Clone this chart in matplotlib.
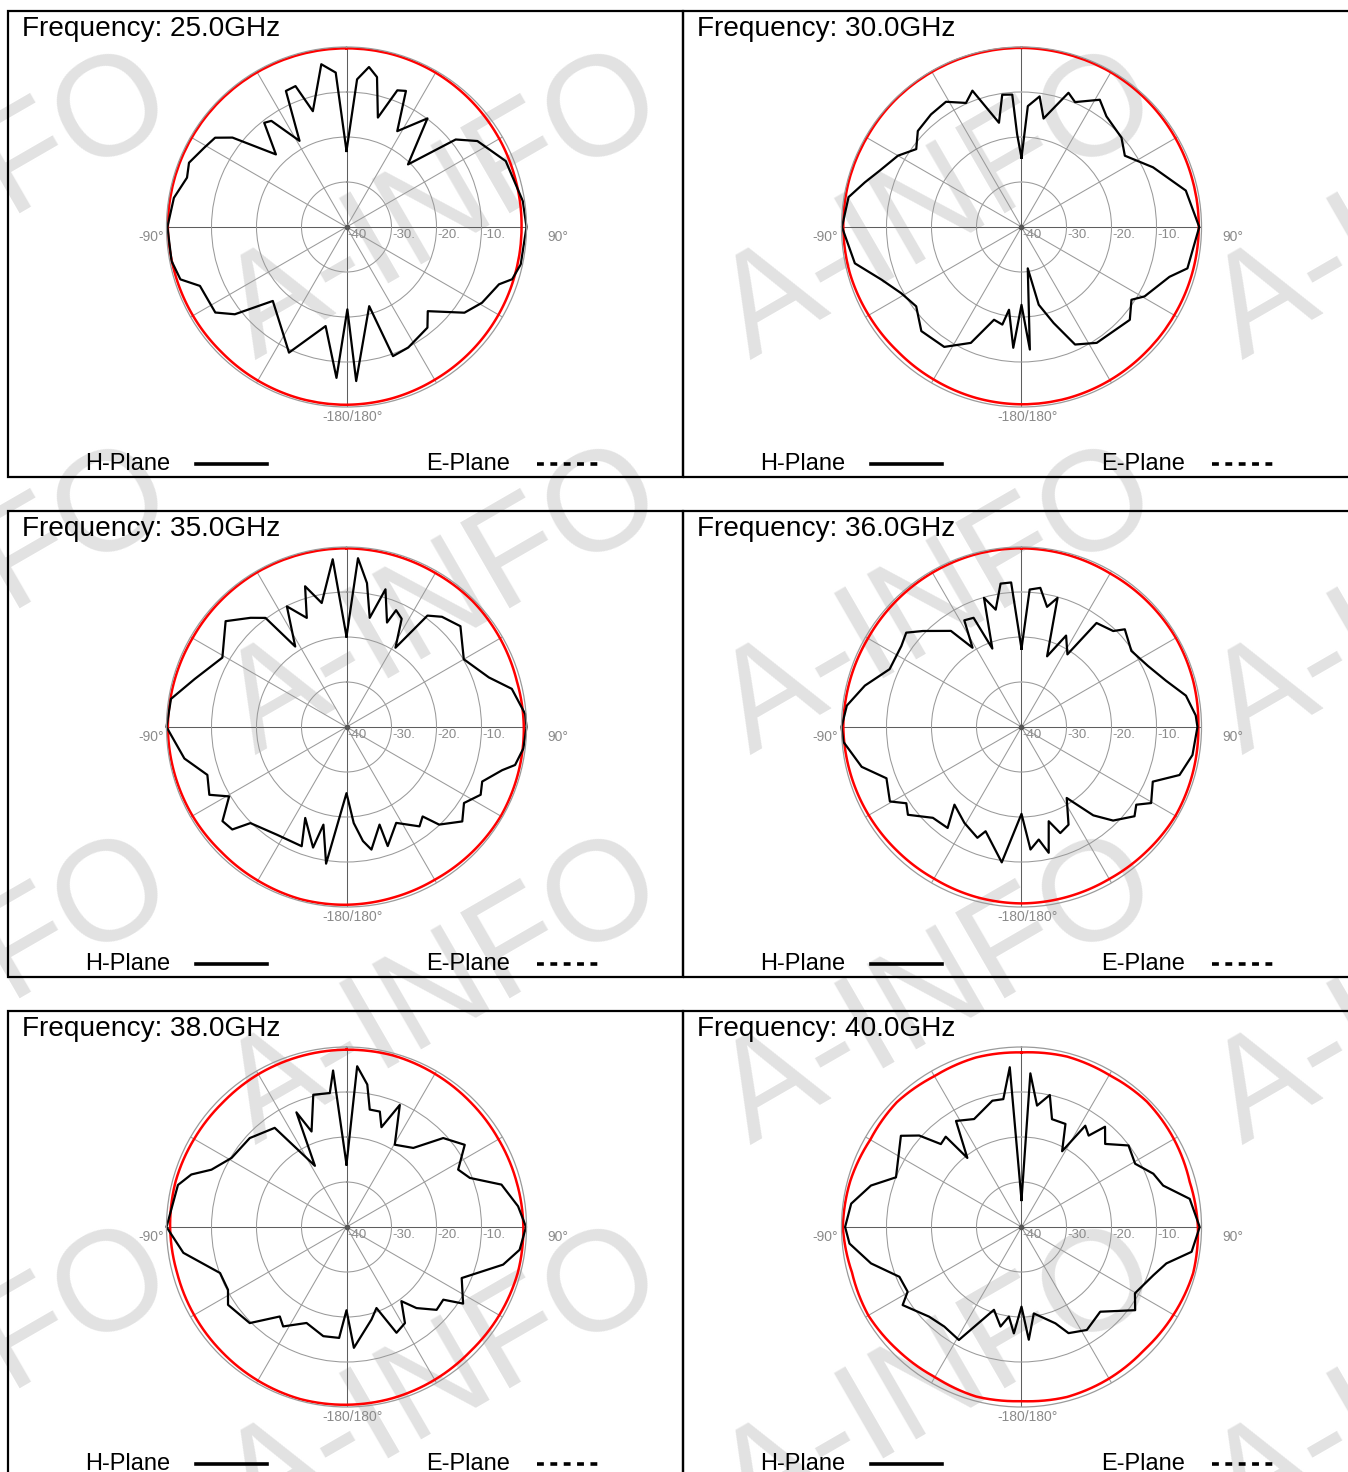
import numpy as np
import matplotlib.pyplot as plt
from matplotlib.lines import Line2D
from matplotlib.patches import Rectangle

plt.rcParams['font.family'] = ['Liberation Sans', 'DejaVu Sans']

W, H = 1348, 1472

# H-plane (black) traces: angle in degrees (clockwise from top), level in dB
h25_deg = [0, 4.1, 8, 11.5, 16, 20.4, 23.6, 27.9, 36.7, 44.5, 51.3, 56.7, 67.5, 81.6, 90,
           102.1, 107.5, 110.6, 119.2, 126, 136, 141.2, 152.9, 160.2, 164, 176.4, 179.4, 183.8,
           191.9, 204.6, 211.6, 224.9, 232, 236.9, 248.1, 252.5, 259, 270, 279.6, 287.2, 292.2,
           299.1, 304.2, 308.1, 315.8, 321.7, 324.7, 331.4, 336, 340.1, 343.8, 351.2, 356]
h25_db = [-23.1, -7.1, -4.1, -6.0, -14.7, -7.6, -7.0, -15.9, -9.9, -20.5, -8.9, -5.2, -1.7, -0.4, 0,
          -0.4, -1.4, -3.8, -5.5, -7.6, -14.0, -11.3, -9.9, -9.5, -21.7, -5.7, -21.7, -6.4,
          -17.5, -9.3, -12.8, -16.8, -8.5, -5.2, -4.9, -1.3, -0.4, -0.2, -1.1, -2.9, -2.2,
          -3.8, -4.7, -7.8, -17.5, -10.5, -11.1, -18.2, -6.9, -6.7, -13.2, -3.4, -5.6]

h30_deg = [0, 3, 7.9, 11.5, 19.3, 23.2, 31.6, 37.5, 48.2, 55.4, 65.6, 77.5, 90, 104, 108.6,
           119.4, 123.5, 130.6, 147, 155.5, 161.5, 167.5, 171.4, 176.1, 180, 183.9, 188.6, 191.1,
           196.5, 203.6, 212.8, 223.9, 233, 241.1, 249.3, 257.7, 270, 279.8, 285.9, 291.7, 300,
           306.5, 312.8, 321.2, 328.9, 335.9, 340.2, 347.8, 351.7, 356, 357.3]
h30_db = [-24.6, -13.1, -10.7, -15.4, -8.4, -9.8, -6.8, -9.0, -10.2, -12.1, -7.9, -2.6, -0.5, -2.0, -5.3,
          -8.6, -10.7, -8.3, -9.3, -11.3, -17.5, -22.3, -30.7, -12.7, -22.7, -13.1, -21.4, -17.9,
          -18.5, -11.9, -8.3, -7.9, -10.7, -9.5, -6.8, -2.1, -0.1, -1.0, -3.8, -6.1, -8.3,
          -10.9, -8.6, -7.9, -7.5, -9.8, -7.8, -16.3, -10.3, -10.5, -19.4]

h35_deg = [0, 3.9, 8.1, 12, 15.8, 21.2, 23, 27, 31.7, 36, 40.9, 48.5, 60, 70.8, 77, 85.8, 90,
           96.9, 102.7, 105.5, 111.9, 116.8, 122.9, 129.2, 136.5, 139.6, 143.7, 152.6, 160.9,
           161.3, 168.5, 171.8, 175.7, 180, 188.5, 193.3, 195.5, 204.4, 200.6, 212.9, 225, 228.1,
           232.8, 239.4, 243.7, 251, 259, 270, 279.1, 287.5, 299.2, 311.2, 318.7, 323.4, 327.5,
           333.7, 340, 343.6, 348.7, 355.3]
h35_db = [-19.9, -2.4, -7.7, -15.2, -8.2, -15.1, -11.8, -13.0, -19.3, -9.4, -7.6, -6.2, -9.9, -6.5, -2.3, -0.2, 0,
          -0.4, -1.6, -4.1, -7.5, -6.6, -8.9, -6.8, -10.1, -13.9, -12.6, -16.0, -12.0,
          -17.1, -12.2, -14.4, -18.6, -25.3, -9.3, -17.7, -12.2, -17.8, -11.7, -11.5, -9.8, -5.9,
          -5.4, -9.7, -6.0, -7.3, -3.3, 0, -0.5, -4.6, -8.4, -4.3, -7.7, -9.8, -18.8,
          -10.1, -14.2, -7.4, -11.9, -2.6]

h36_deg = [0, 3.4, 7.7, 12, 15.6, 19.9, 26, 32.3, 35.8, 43.7, 46.6, 55.3, 64.2, 72.2, 79.2, 86.2, 90,
           99.3, 106.9, 112.6, 120.4, 124.1, 128.3, 135.6, 140.9, 147.5, 154.3, 159.9, 163.9, 167.8,
           171.3, 175.8, 180, 188.3, 199, 201.7, 210.8, 220.8, 216.2, 224.3, 232.3, 236.5, 240.5,
           249.2, 256, 265.2, 270, 277, 284.8, 293.7, 304, 309.3, 314.2, 323.7, 328.3, 331.8,
           336.3, 339.6, 343.8, 347.6, 351.7, 355.9]
h36_db = [-22.6, -9.4, -8.8, -12.7, -10.2, -23.3, -17.4, -20.9, -11.5, -10.5, -8.4, -10.3, -8.8, -6.3, -2.8, -1.2, -0.9,
          -1.5, -3.3, -8.4, -6.6, -9.2, -8.0, -10.9, -14.7, -21.3, -15.9, -14.9, -18.2, -11.4,
          -14.7, -12.7, -20.7, -9.6, -15.5, -13.5, -15.2, -17.2, -12.2, -11.8, -8.1, -9.3, -6.4,
          -7.9, -3.4, -0.3, 0, -0.9, -4.0, -8.0, -7.8, -6.9, -9.4, -13.5, -19.3, -13.1,
          -13.5, -21.4, -10.1, -13.3, -7.8, -7.8]

h38_deg = [0, 3.8, 8.3, 11.2, 16.1, 19.3, 23.6, 30.4, 40.2, 47.4, 55.2, 62.8, 68.3, 74.7, 83.1, 90,
           97.5, 103.5, 113.9, 123.3, 126.9, 132.6, 139.2, 143.5, 148.7, 154.7, 159.7, 164.9, 176.5,
           180, 183.8, 192, 202.6, 212.5, 216.7, 225.2, 236.7, 242.1, 250, 261, 270, 284, 288.7,
           293, 301, 312.6, 324.1, 332.7, 336.4, 339.9, 345.9, 352.9, 355.1]
h38_db = [-26.1, -4.2, -8.0, -13.4, -13.3, -16.5, -10.4, -18.8, -17.0, -10.8, -8.0, -12.1, -10.5, -4.3, -1.6, -0.1,
          -1.2, -4.2, -12.0, -9.0, -13.1, -12.8, -16.2, -19.5, -15.0, -14.0, -20.8, -18.7, -13.1,
          -21.5, -15.3, -15.2, -16.9, -13.8, -15.2, -9.7, -8.5, -10.2, -10.1, -3.3, 0, -1.4, -3.6,
          -7.4, -10.2, -10.8, -12.8, -24.7, -12.2, -17.4, -9.7, -10.0, -5.1]

h40_deg = [0, 3.3, 7.3, 12.1, 15.8, 23.1, 28.2, 32.2, 36.3, 39.8, 45.2, 52.7, 60.9, 68, 73.7, 80.5, 90,
           98.3, 104.1, 110.1, 120.3, 126.2, 137.1, 147.6, 156.1, 160.6, 171.9, 176.3, 180, 184.1,
           188, 191.9, 198.4, 209, 217.8, 225.8, 236.7, 240.4, 247.8, 256.4, 264.5, 270, 277.8,
           285.4, 291.6, 307.1, 311.8, 315.8, 320, 321.9, 328.3, 336.3, 347, 351.9, 355.8]
h40_db = [-34.0, -5.8, -12.8, -10.0, -15.1, -15.1, -20.9, -13.4, -14.8, -11.0, -13.8, -10.1, -11.1, -8.4, -7.2, -2.1, -0.4,
          -1.8, -6.8, -8.8, -10.8, -8.7, -14.3, -12.9, -14.2, -17.3, -20.6, -14.9, -22.3, -16.3,
          -19.9, -17.4, -20.6, -11.3, -12.0, -11.4, -8.4, -10.9, -10.7, -5.6, -1.6, -0.8, -1.8,
          -5.3, -10.0, -6.4, -9.5, -14.3, -13.8, -20.5, -12.3, -13.8, -11.2, -11.3, -4.4]

# red traces, sampled every 15 degrees
e_deg = list(range(0, 360, 15))
e25_db = [-0.3, -0.3, -0.4, -0.6, -0.8, -1.0, -1.1, -1.1, -1.0, -0.9, -0.8, -0.6,
          -0.5, -0.5, -0.6, -0.7, -0.6, -0.5, -0.3, -0.3, -0.3, -0.3, -0.3, -0.3]
e30_db = [-0.2, -0.3, -0.3, -0.4, -0.5, -0.6, -0.6, -0.7, -0.8, -0.8, -0.7, -0.6,
          -0.6, -0.7, -0.9, -1.0, -0.8, -0.5, -0.4, -0.3, -0.3, -0.2, -0.2, -0.2]
e35_db = [-0.3, -0.4, -0.5, -0.4, -0.6, -0.8, -0.6, -0.5, -0.4, -0.6, -0.8, -0.7,
          -0.5, -0.4, -0.6, -0.7, -0.5, -0.4, -0.3, -0.4, -0.5, -0.4, -0.3, -0.3]
e36_db = [-0.3, -0.4, -0.6, -0.5, -0.4, -0.5, -0.7, -0.6, -0.5, -0.8, -1.0, -0.9,
          -0.8, -0.9, -1.1, -1.0, -0.8, -0.6, -0.4, -0.5, -0.6, -0.5, -0.4, -0.3]
e38_db = [-0.6, -0.5, -0.7, -0.9, -1.0, -0.9, -0.7, -0.6, -0.8, -1.0, -0.8, -0.6,
          -0.5, -0.4, -0.6, -0.8, -0.9, -1.0, -0.8, -0.7, -0.9, -1.0, -0.8, -0.7]
e40_db = [-1.2, -0.8, -1.0, -0.6, -0.9, -1.3, -0.8, -0.5, -1.0, -1.4, -1.1, -0.9,
          -1.3, -1.0, -1.5, -1.2, -0.7, -1.0, -0.3, -0.6, -1.2, -0.8, -1.3, -1.0]

freqs = ['25.0', '30.0', '35.0', '36.0', '38.0', '40.0']
h_deg = [h25_deg, h30_deg, h35_deg, h36_deg, h38_deg, h40_deg]
h_db = [h25_db, h30_db, h35_db, h36_db, h38_db, h40_db]
e_db = [e25_db, e30_db, e35_db, e36_db, e38_db, e40_db]

ring_levels = [-40, -30, -20, -10]
ring_labels = ['-40', '-30.', '-20.', '-10.']
spoke_deg = list(range(0, 360, 30))


def fx(px):
    return px / W


def fy(py):
    return 1 - py / H


fig = plt.figure(figsize=(W / 100, H / 100), dpi=100)

# watermark
for wy in [208, 603, 993, 1383]:
    for wx in [-45, 445, 940, 1432]:
        fig.text(fx(wx), fy(wy), 'A-INFO', rotation=30, rotation_mode='anchor',
                 ha='center', va='center', fontsize=102, color='#e2e2e2', zorder=-5)

R = 180
box_x = [8, 683]
box_y = [11, 511, 1011]
grid_c = '#9a9a9a'
label_c = '#8a8a8a'

for i in range(6):
    x0 = box_x[i % 2]
    y0 = box_y[i // 2]
    x1 = 683 if i % 2 == 0 else 1400
    y1 = y0 + 466 if i // 2 < 2 else 1500
    fig.add_artist(Rectangle((fx(x0), fy(y1)), (x1 - x0) / W, (y1 - y0) / H,
                             transform=fig.transFigure, fill=False, lw=1.6,
                             ec='black', clip_on=False))

    fig.text(fx(x0 + 14), fy(y0 + 18), f'Frequency: {freqs[i]}GHz',
             fontsize=20.2, ha='left', va='center')

    ly = y0 + 453
    fig.text(fx(x0 + 77), fy(ly), 'H-Plane', fontsize=17, ha='left', va='center')
    fig.add_artist(Line2D([fx(x0 + 188), fx(x0 + 259)], [fy(ly), fy(ly)],
                          transform=fig.transFigure, color='black', lw=2.6))
    fig.text(fx(x0 + 418), fy(ly), 'E-Plane', fontsize=17, ha='left', va='center')
    fig.add_artist(Line2D([fx(x0 + 529), fx(x0 + 595)], [fy(ly), fy(ly)],
                          transform=fig.transFigure, color='black', lw=2.6,
                          linestyle=(0, (1.9, 1.8))))

    cx = x0 + 338.5
    cy = y0 + 216
    ax = fig.add_axes([fx(cx - R), fy(cy + R), 2 * R / W, 2 * R / H], projection='polar')
    ax.set_theta_zero_location('N')
    ax.set_theta_direction(-1)
    ax.set_ylim(-40, 0)
    ax.set_xticks(np.deg2rad(spoke_deg))
    ax.set_yticks(ring_levels[1:])
    ax.set_xticklabels([])
    ax.set_yticklabels([])
    ax.tick_params(length=0)
    ax.grid(True, color=grid_c, lw=0.75)
    for k, t in enumerate(ax.xaxis.get_major_ticks()):
        if k % 3 == 0:
            t.gridline.set_color('#5e5e5e')
    ax.spines['polar'].set_color(grid_c)
    ax.spines['polar'].set_linewidth(0.9)
    ax.patch.set_visible(False)
    ax.plot([0], [-40], 'o', ms=3, color='#555555')

    th = np.deg2rad(e_deg + [360])
    red, = ax.plot(th, e_db[i] + [e_db[i][0]], color='#ff0000', lw=1.8, clip_on=False)
    red.get_path()._interpolation_steps = 16  # draw the sampled trace along arcs
    th = np.deg2rad(h_deg[i] + [h_deg[i][0] + 360])
    ax.plot(th, h_db[i] + [h_db[i][0]], color='black', lw=1.6, clip_on=False)

    for lv, lb in zip(ring_levels, ring_labels):
        ax.annotate(lb, xy=(np.pi / 2, lv), xytext=(1, -2), textcoords='offset pixels',
                    ha='left', va='top', fontsize=9.5, color=label_c, annotation_clip=False)
    ax.annotate('90°', xy=(np.pi / 2, 0), xytext=(21, -3), textcoords='offset pixels',
                ha='left', va='top', fontsize=10, color=label_c, annotation_clip=False)
    ax.annotate('-90°', xy=(3 * np.pi / 2, 0), xytext=(-3, -3), textcoords='offset pixels',
                ha='right', va='top', fontsize=10, color=label_c, annotation_clip=False)
    ax.annotate('-180/180°', xy=(np.pi, 0), xytext=(6, -3), textcoords='offset pixels',
                ha='center', va='top', fontsize=10, color=label_c, annotation_clip=False)

fig.savefig('out.png', dpi=100)
